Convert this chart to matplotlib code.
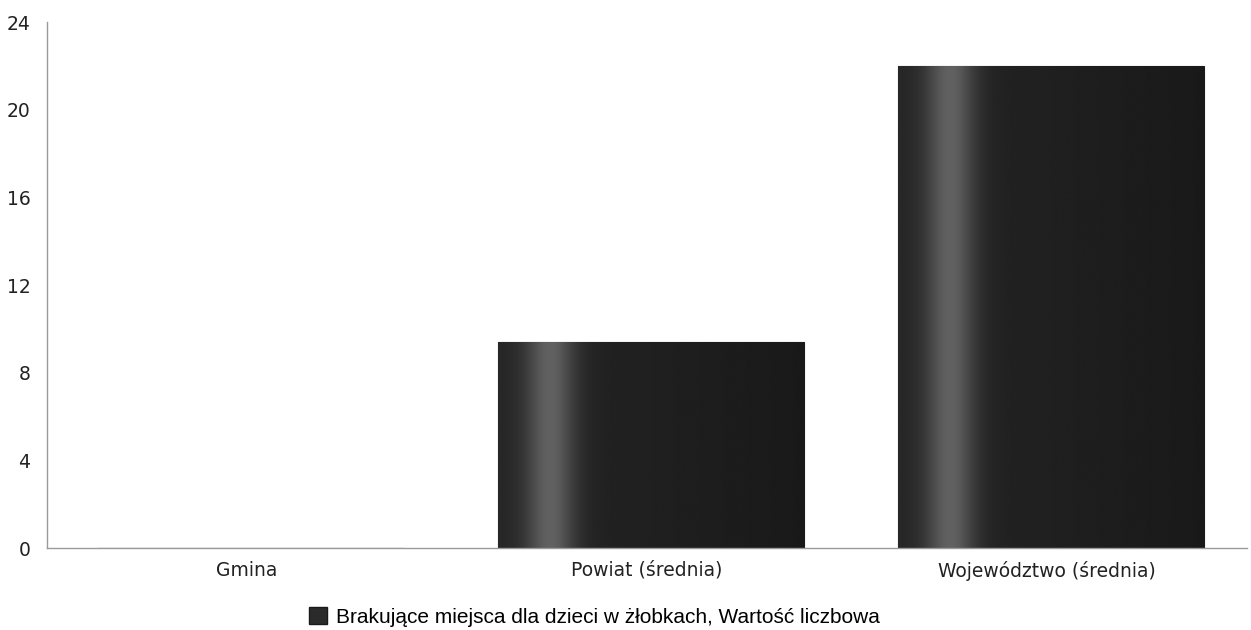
import matplotlib
matplotlib.use("Agg")
import matplotlib.pyplot as plt
import numpy as np
from matplotlib.patches import Patch

categories = ["Gmina", "Powiat (średnia)", "Województwo (średnia)"]
values = [0, 9.4, 22]
y_ticks = [0, 4, 8, 12, 16, 20, 24]
legend_label = "Brakujące miejsca dla dzieci w żłobkach, Wartość liczbowa"

plt.rcParams["font.family"] = ["DejaVu Sans"]

fig = plt.figure(figsize=(12.51, 6.30), dpi=100)
ax = fig.add_axes([0.0376, 0.130, 0.959, 0.835])

x = np.arange(len(categories))
bars = ax.bar(x + 0.01, values, width=0.765, color="#262626", edgecolor="#1a1a1a", linewidth=0.8)

# horizontal shading across each bar: a lighter stripe near the left edge
u = np.linspace(0, 1, 256)
shade = 0.15 + 0.24 * np.exp(-((u - 0.17) / 0.08) ** 2) - 0.05 * u
shade = np.clip(shade, 0, 1)
grad = np.tile(shade, (2, 1))
for bar in bars:
    h = bar.get_height()
    if h <= 0:
        continue
    x0 = bar.get_x()
    w = bar.get_width()
    im = ax.imshow(grad, cmap="gray", vmin=0, vmax=1, aspect="auto",
                   extent=(x0, x0 + w, 0, h), interpolation="bicubic", zorder=2)
    im.set_clip_path(bar)

ax.set_xlim(-0.5, 2.5)
ax.set_ylim(0, 24)
ax.set_yticks(y_ticks)
ax.set_xticks(x)
ax.set_xticklabels(categories)
ax.tick_params(axis="both", length=0, labelsize=13.5, colors="#222222")
ax.tick_params(axis="x", pad=9)
ax.tick_params(axis="y", pad=12)

for side in ["top", "right"]:
    ax.spines[side].set_visible(False)
for side in ["left", "bottom"]:
    ax.spines[side].set_color("#9a9a9a")
    ax.spines[side].set_linewidth(1.0)

handle = Patch(facecolor="#2b2b2b", edgecolor="#1a1a1a")
fig.legend([handle], [legend_label], loc="center", bbox_to_anchor=(0.475, 0.021),
           frameon=False, handlelength=0.9, handleheight=0.9,
           handletextpad=0.4, prop={"family": "Liberation Sans", "size": 15})

fig.savefig("out.png", dpi=100)
plt.close(fig)
